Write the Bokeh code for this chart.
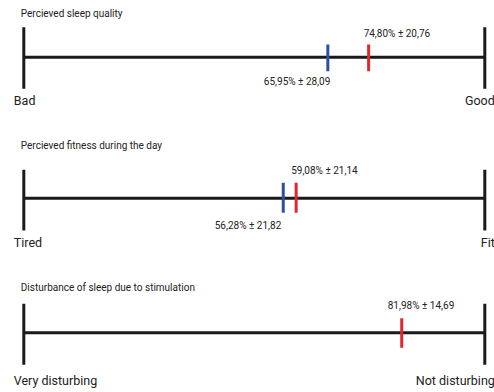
from bokeh.plotting import figure
from bokeh.models import Range1d
from bokeh.core.properties import value
from bokeh.embed import file_html
from bokeh.resources import INLINE

# ---- data ----
titles = ["Percieved sleep quality",
          "Percieved fitness during the day",
          "Disturbance of sleep due to stimulation"]
low_labels = ["Bad", "Tired", "Very disturbing"]
high_labels = ["Good", "Fit", "Not disturbing"]
scale_min = 0
scale_max = 100
blue_means = [65.95, 56.28]
blue_sds = [28.09, 21.82]
red_means = [74.80, 59.08, 81.98]
red_sds = [20.76, 21.14, 14.69]

# ---- layout (screen pixels from top of figure) ----
line_y = [56.7, 197.7, 332.3]
bar_top = [26.7, 169.3, 303.3]
bar_bot = [88.3, 230.0, 364.3]
tick_top = [44.0, 182.3, 317.7]
tick_bot = [70.7, 212.3, 347.3]
title_y = [13.0, 145.0, 286.7]
end_y = [100.0, 242.0, 380.0]
red_label_y = [33.0, 170.0, 305.0]
red_label_dx = [-5, -5, -14]
blue_label_y = [81.0, 225.0]
blue_label_dx = [2.5, -2]

W, H = 494, 392
PX_PER_UNIT = 4.61
x0_px = 23.3
x_start = -x0_px / PX_PER_UNIT
x_end = x_start + W / PX_PER_UNIT

BLUE = "#2c4f9e"
RED = "#e3262d"
INK = "#1a1a1a"
TXT = "#222222"
FONT = value("Roboto")


def fmt(m, s):
    return (f"{m:.2f}% ± {s:.2f}").replace(".", ",")


p = figure(width=W, height=H, output_backend="svg", toolbar_location=None,
           x_range=Range1d(x_start, x_end), y_range=Range1d(H, 0),
           min_border=0, x_axis_location=None, y_axis_location=None)
p.xgrid.visible = False
p.ygrid.visible = False
p.outline_line_color = None
p.background_fill_color = "white"
p.border_fill_color = "white"

n = len(titles)
# main scale lines
p.segment(x0=[scale_min] * n, x1=[scale_max] * n, y0=line_y, y1=line_y,
          line_color=INK, line_width=3)
# end bars
p.segment(x0=[scale_min] * n + [scale_max] * n, x1=[scale_min] * n + [scale_max] * n,
          y0=bar_top + bar_top, y1=bar_bot + bar_bot, line_color=INK, line_width=3)

# blue means
nb = len(blue_means)
p.segment(x0=blue_means, x1=blue_means, y0=tick_top[:nb], y1=tick_bot[:nb],
          line_color=BLUE, line_width=3)
# red means
p.segment(x0=red_means, x1=red_means, y0=tick_top, y1=tick_bot,
          line_color=RED, line_width=3)

for i in range(n):
    p.text(x=[scale_min], y=[title_y[i]], text=[titles[i]], x_offset=-3,
           text_font=FONT, text_font_size="10px", text_color=TXT,
           text_align="left", text_baseline="middle")
    p.text(x=[scale_min], y=[end_y[i]], text=[low_labels[i]], x_offset=-10,
           text_font=FONT, text_font_size="12.5px", text_color=TXT,
           text_align="left", text_baseline="middle")
    p.text(x=[scale_max], y=[end_y[i]], text=[high_labels[i]], x_offset=10,
           text_font=FONT, text_font_size="12.5px", text_color=TXT,
           text_align="right", text_baseline="middle")
    p.text(x=[red_means[i]], y=[red_label_y[i]], text=[fmt(red_means[i], red_sds[i])],
           x_offset=red_label_dx[i], text_font=FONT, text_font_size="10px",
           text_color=TXT, text_align="left", text_baseline="middle")

for i in range(nb):
    p.text(x=[blue_means[i]], y=[blue_label_y[i]], text=[fmt(blue_means[i], blue_sds[i])],
           x_offset=blue_label_dx[i], text_font=FONT, text_font_size="10px",
           text_color=TXT, text_align="right", text_baseline="middle")

open("out.html", "w").write(file_html(p, INLINE))
